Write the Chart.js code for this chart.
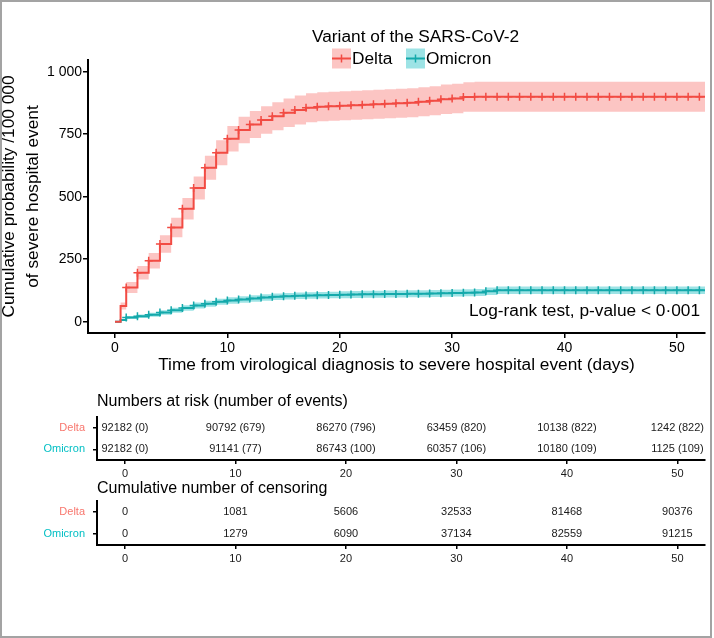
<!DOCTYPE html>
<html>
<head>
<meta charset="utf-8">
<script src="https://cdn.jsdelivr.net/npm/chart.js@4.4.1/dist/chart.umd.min.js"></script>
<style>
  html, body { margin: 0; padding: 0; background: #fff; }
  #page { position: relative; width: 714px; height: 638px; overflow: hidden; }
  #frame { position: absolute; left: 0; top: 0; width: 708px; height: 634px; border: 2px solid #a3a3a3; pointer-events: none; z-index: 2; }
  canvas { position: absolute; left: 0; }
</style>
</head>
<body>
<div id="page">
  <canvas id="kmChart" width="714" height="385" style="top:0"></canvas>
  <canvas id="riskTable" width="714" height="93" style="top:385px"></canvas>
  <canvas id="censorTable" width="714" height="100" style="top:478px"></canvas>
  <div id="frame"></div>
</div>
<script>
	'use strict';

	// --- data ---
	const timeDays = [0, 0.5, 1, 2, 3, 4, 5, 6, 7, 8, 9, 10, 11, 12, 13, 14, 15, 16, 17, 18, 19, 20,
		21, 22, 23, 24, 25, 26, 27, 28, 29, 30, 31, 32, 33, 34, 35, 36, 37, 38, 39, 40,
		41, 42, 43, 44, 45, 46, 47, 48, 49, 50, 51, 52, 52.5];

	// cumulative probability /100 000
	const deltaRisk = [0, 63, 137, 196, 244, 311, 377, 452, 535, 616, 676, 732, 767, 789, 807, 822, 836, 847, 856, 860, 862, 864,
		866, 868, 870, 872, 874, 876, 880, 884, 890, 893, 899, 900, 900, 900, 900, 900, 900, 900, 900, 900,
		900, 900, 900, 900, 900, 900, 900, 900, 900, 900, 900, 900, 900];
	const deltaLower = [0, 49, 115, 169, 213, 276, 338, 409, 489, 568, 626, 681, 714, 735, 752, 766, 779, 789, 798, 802, 804, 806,
		808, 810, 812, 814, 816, 818, 822, 826, 831, 834, 840, 840, 840, 840, 840, 840, 840, 840, 840, 840,
		840, 840, 840, 840, 840, 840, 840, 840, 840, 840, 840, 840, 840];
	const deltaUpper = [0, 77, 159, 223, 275, 346, 416, 495, 581, 664, 726, 783, 820, 843, 862, 878, 893, 905, 914, 918, 920, 922,
		924, 926, 928, 930, 932, 934, 938, 942, 949, 952, 958, 960, 960, 960, 960, 960, 960, 960, 960, 960,
		960, 960, 960, 960, 960, 960, 960, 960, 960, 960, 960, 960, 960];

	const omicronRisk = [0, 7, 17, 22, 28, 37, 46, 55, 65, 72, 80, 85, 89, 93, 97, 100, 102, 104, 105, 106, 107, 108,
		109, 110, 110, 111, 111, 112, 112, 113, 114, 115, 116, 117, 122, 126, 126, 126, 126, 126, 126, 126,
		126, 126, 126, 126, 126, 126, 126, 126, 126, 126, 126, 126, 126];
	const omicronLower = [0, 3, 11, 15, 20, 28, 36, 44, 53, 60, 68, 72, 76, 80, 84, 87, 89, 91, 92, 93, 94, 94,
		95, 96, 96, 97, 97, 98, 98, 99, 100, 101, 102, 103, 107, 111, 111, 111, 111, 111, 111, 111,
		111, 111, 111, 111, 111, 111, 111, 111, 111, 111, 111, 111, 111];
	const omicronUpper = [0, 11, 23, 29, 36, 46, 56, 66, 77, 84, 92, 98, 102, 106, 110, 113, 115, 117, 118, 119, 120, 122,
		123, 124, 124, 125, 125, 126, 126, 127, 128, 129, 130, 131, 137, 141, 141, 141, 141, 141, 141, 141,
		141, 141, 141, 141, 141, 141, 141, 141, 141, 141, 141, 141, 141];

	const xTicks = [0, 10, 20, 30, 40, 50];
	const yTicks = [0, 250, 500, 750, 1000];
	const yTickLabels = ['0', '250', '500', '750', '1 000'];

	// tables
	const variants = ['Delta', 'Omicron'];
	const tableTimes = [0, 10, 20, 30, 40, 50];
	const deltaAtRisk = [92182, 90792, 86270, 63459, 10138, 1242];
	const deltaEvents = [0, 679, 796, 820, 822, 822];
	const omicronAtRisk = [92182, 91141, 86743, 60357, 10180, 1125];
	const omicronEvents = [0, 77, 100, 106, 109, 109];
	const deltaCensored = [0, 1081, 5606, 32533, 81468, 90376];
	const omicronCensored = [0, 1279, 6090, 37134, 82559, 91215];

	// --- styles ---
	const fontFamily = "'Liberation Sans', Arial, Helvetica, sans-serif";
	const bigFont = 17.3;
	const deltaColor = '#f24b43';
	const deltaBand = 'rgba(250, 150, 145, 0.55)';
	const omicronColor = '#14a9ab';
	const omicronBand = 'rgba(60, 200, 204, 0.5)';
	const variantLabelColors = ['#f8766d', '#00bfc4'];

	const toPoints = function (xs, ys) {
		return xs.map((x, i) => ({x: x, y: ys[i]}));
	};

	const markRadius = function (c) {
		return c.raw && c.raw.x >= 1 && c.raw.x <= 52 ? 4 : 0;
	};

	const curve = function (label, values, color) {
		return {
			label: label,
			data: toPoints(timeDays, values),
			stepped: true,
			borderColor: color,
			borderWidth: 2,
			pointStyle: 'cross',
			pointRadius: markRadius,
			pointBorderColor: color,
			pointBorderWidth: 1.5,
			fill: false,
			isCurve: true
		};
	};

	const bandEdge = function (values, fill, color) {
		return {
			data: toPoints(timeDays, values),
			stepped: true,
			borderColor: 'transparent',
			borderWidth: 0,
			pointRadius: 0,
			fill: fill,
			backgroundColor: color
		};
	};

	const axisGrid = {drawOnChartArea: false, drawTicks: true, tickLength: 5, color: '#000', lineWidth: 1.5};
	const axisBorder = {display: true, color: '#000', width: 2};

	// legend + log-rank text for the main plot
	const kmOverlay = {
		id: 'kmOverlay',
		afterDraw(chart) {
			const ctx = chart.ctx;
			ctx.save();
			ctx.font = bigFont + 'px ' + fontFamily;
			ctx.fillStyle = '#000';
			ctx.textBaseline = 'middle';
			ctx.textAlign = 'left';
			ctx.fillText('Variant of the SARS-CoV-2', 312, 37);

			const keys = chart.data.datasets.filter(d => d.isCurve);
			const keyX = [332, 406];
			const bands = [deltaBand, omicronBand];
			keys.forEach((d, i) => {
				const x = keyX[i];
				ctx.fillStyle = bands[i];
				ctx.fillRect(x, 48.5, 19, 20);
				ctx.strokeStyle = d.borderColor;
				ctx.lineWidth = 2;
				ctx.beginPath();
				ctx.moveTo(x, 58.5);
				ctx.lineTo(x + 19, 58.5);
				ctx.stroke();
				ctx.lineWidth = 1.5;
				ctx.beginPath();
				ctx.moveTo(x + 9.5, 54.5);
				ctx.lineTo(x + 9.5, 62.5);
				ctx.stroke();
				ctx.fillStyle = '#000';
				ctx.fillText(d.label, x + 20, 59.5);
			});

			ctx.textAlign = 'right';
			ctx.fillText('Log-rank test, p-value < 0\u00b7001', chart.chartArea.right - 5, chart.chartArea.bottom - 22);
			ctx.restore();
		}
	};

	const handleMainChart = function () {
		new Chart(document.getElementById('kmChart'), {
			type: 'line',
			data: {
				datasets: [
					curve('Delta', deltaRisk, deltaColor),
					curve('Omicron', omicronRisk, omicronColor),
					bandEdge(deltaLower, false, 'transparent'),
					bandEdge(deltaUpper, '-1', deltaBand),
					bandEdge(omicronLower, false, 'transparent'),
					bandEdge(omicronUpper, '-1', omicronBand)
				]
			},
			options: {
				responsive: false,
				animation: false,
				events: [],
				layout: {padding: {top: 60, right: 9, left: 0, bottom: 0}},
				plugins: {
					legend: {display: false},
					tooltip: {enabled: false},
					filler: {drawTime: 'beforeDatasetsDraw'}
				},
				scales: {
					x: {
						type: 'linear',
						min: -2.4,
						max: 52.5,
						afterBuildTicks: s => { s.ticks = xTicks.map(v => ({value: v})); },
						afterFit: s => { s.height = 52; },
						grid: axisGrid,
						border: axisBorder,
						ticks: {color: '#000', font: {size: 14, family: fontFamily}, padding: 2, maxRotation: 0},
						title: {
							display: true,
							text: 'Time from virological diagnosis to severe hospital event (days)',
							color: '#000',
							font: {size: bigFont, family: fontFamily},
							padding: {top: 0, bottom: 9}
						}
					},
					y: {
						type: 'linear',
						min: -45.2,
						max: 1046.8,
						afterBuildTicks: s => { s.ticks = yTicks.map(v => ({value: v})); },
						afterFit: s => { s.width = 88; },
						grid: axisGrid,
						border: axisBorder,
						ticks: {
							color: '#000',
							font: {size: 14, family: fontFamily},
							padding: 1,
							callback: (v, i) => yTickLabels[i]
						},
						title: {
							display: true,
							text: ['Cumulative probability /100 000', 'of severe hospital event'],
							color: '#000',
							font: {size: bigFont, family: fontFamily, lineHeight: 1.4},
							padding: {top: -3, bottom: 0}
						}
					}
				}
			},
			plugins: [kmOverlay]
		});
	};

	// numbers written in the table cells
	const cellText = {
		id: 'cellText',
		afterDatasetsDraw(chart) {
			const ctx = chart.ctx;
			ctx.save();
			ctx.font = '11px ' + fontFamily;
			ctx.fillStyle = '#1a1a1a';
			ctx.textAlign = 'center';
			ctx.textBaseline = 'middle';
			chart.data.datasets.forEach((ds, i) => {
				chart.getDatasetMeta(i).data.forEach((pt, j) => {
					ctx.fillText(ds.cellText[j], pt.x, pt.y);
				});
			});
			ctx.restore();
		}
	};

	const tableTitle = {
		id: 'tableTitle',
		afterDraw(chart, args, opts) {
			const ctx = chart.ctx;
			ctx.save();
			ctx.font = '16px ' + fontFamily;
			ctx.fillStyle = '#000';
			ctx.textAlign = 'left';
			ctx.textBaseline = 'middle';
			ctx.fillText(opts.text, chart.chartArea.left, opts.y);
			ctx.restore();
		}
	};

	const handleTable = function (id, title, titleY, plotTop, axisHeight, texts) {
		new Chart(document.getElementById(id), {
			type: 'scatter',
			data: {
				datasets: variants.map((v, i) => ({
					label: v,
					data: tableTimes.map(t => ({x: t, y: v})),
					cellText: texts[i],
					pointRadius: 0
				}))
			},
			options: {
				responsive: false,
				animation: false,
				events: [],
				layout: {padding: {top: plotTop, right: 9, left: 0, bottom: 0}},
				plugins: {
					legend: {display: false},
					tooltip: {enabled: false},
					tableTitle: {text: title, y: titleY}
				},
				scales: {
					x: {
						type: 'linear',
						min: -2.53,
						max: 52.5,
						afterBuildTicks: s => { s.ticks = tableTimes.map(v => ({value: v})); },
						afterFit: s => { s.height = axisHeight; },
						grid: {drawOnChartArea: false, drawTicks: true, tickLength: 4, color: '#000', lineWidth: 1.5},
						border: axisBorder,
						ticks: {color: '#1a1a1a', font: {size: 11, family: fontFamily}, padding: 3, maxRotation: 0}
					},
					y: {
						type: 'category',
						labels: variants,
						offset: true,
						afterFit: s => { s.width = 97; },
						grid: {drawOnChartArea: false, drawTicks: true, tickLength: 4, color: '#000', lineWidth: 1.5},
						border: axisBorder,
						ticks: {
							color: c => variantLabelColors[c.index],
							font: {size: 11, family: fontFamily},
							padding: 8
						}
					}
				}
			},
			plugins: [cellText, tableTitle]
		});
	};

	handleMainChart();
	handleTable('riskTable', 'Numbers at risk (number of events)', 17, 32, 18, [
		deltaAtRisk.map((n, i) => n + ' (' + deltaEvents[i] + ')'),
		omicronAtRisk.map((n, i) => n + ' (' + omicronEvents[i] + ')')
	]);
	handleTable('censorTable', 'Cumulative number of censoring', 10.5, 23, 33, [
		deltaCensored.map(String),
		omicronCensored.map(String)
	]);
</script>
</body>
</html>
